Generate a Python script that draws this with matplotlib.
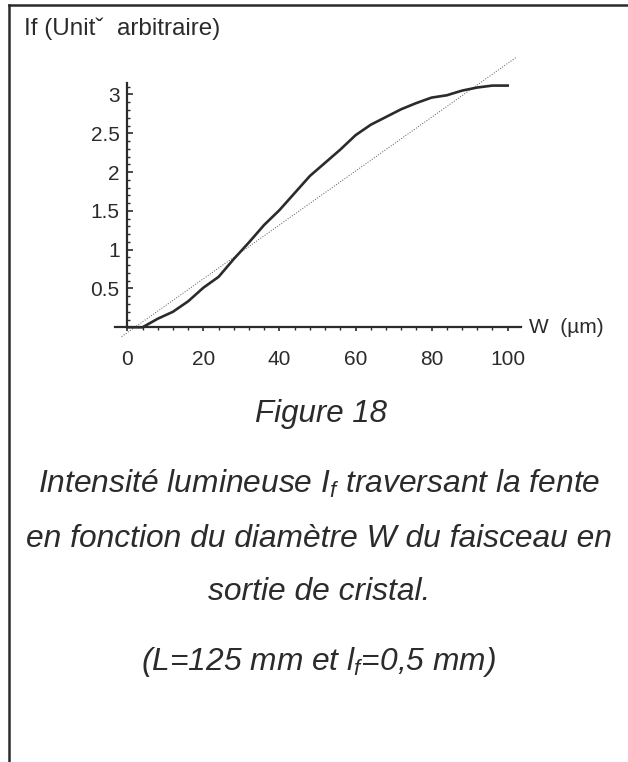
import numpy as np
import matplotlib
matplotlib.use("Agg")
import matplotlib.pyplot as plt
from matplotlib.lines import Line2D
from matplotlib.ticker import FixedLocator

# beam diameter W (um) and transmitted intensity If (arbitrary units)
W = [0, 4, 8, 12, 16, 20, 24, 28, 32, 36, 40, 44, 48, 52,
     56, 60, 64, 68, 72, 76, 80, 84, 88, 92, 96, 100]
If = [0.0, 0.0, 0.11, 0.20, 0.335, 0.51, 0.65, 0.88, 1.095, 1.32, 1.51, 1.73, 1.95, 2.12,
      2.29, 2.475, 2.61, 2.71, 2.81, 2.89, 2.96, 2.99, 3.05, 3.09, 3.115, 3.115]

# linear fit drawn as a dotted reference line
fit_slope = 0.0347
fit_intercept = -0.069
fit_range = [-1.5, 102.4]

x_ticks = [0, 20, 40, 60, 80, 100]
y_ticks = [0.5, 1, 1.5, 2, 2.5, 3]
y_tick_labels = ["0.5", "1", "1.5", "2", "2.5", "3"]

ink = "#2b2b2b"
plt.rcParams['font.family'] = ['Liberation Sans', 'DejaVu Sans']
plt.rcParams['mathtext.fontset'] = 'custom'
plt.rcParams['mathtext.it'] = 'Liberation Sans:italic'
plt.rcParams['mathtext.rm'] = 'Liberation Sans'

fig = plt.figure(figsize=(6.28, 7.62), dpi=100)
ax = fig.add_axes([0.17245, 0.55013, 0.6662, 0.37677])
ax.set_xlim(-5, 105)
ax.set_ylim(-0.2, 3.5)
ax.patch.set_visible(False)

for side in ['top', 'right']:
    ax.spines[side].set_visible(False)
ax.spines['left'].set_position(('data', 0))
ax.spines['bottom'].set_position(('data', 0))
ax.spines['left'].set_bounds(0, 3.15)
ax.spines['bottom'].set_bounds(-3.2, 103.4)
for side in ['left', 'bottom']:
    ax.spines[side].set_color(ink)
    ax.spines[side].set_linewidth(1.6)

ax.set_xticks(x_ticks)
ax.set_xticklabels([str(t) for t in x_ticks])
ax.xaxis.set_minor_locator(FixedLocator([v for v in range(4, 101, 4) if v % 20]))
ax.set_yticks(y_ticks)
ax.set_yticklabels(y_tick_labels)
y_minor = [round(v, 1) for v in np.arange(0.1, 3.15, 0.1)]
ax.yaxis.set_minor_locator(FixedLocator([v for v in y_minor if round(v * 10) % 5]))
ax.tick_params(axis='x', which='major', direction='out', length=3, width=1.2,
               color=ink, labelcolor=ink, labelsize=15, pad=13)
ax.tick_params(axis='x', which='minor', direction='out', length=2.5, width=1.0, color=ink)
ax.tick_params(axis='y', which='major', direction='in', length=4, width=1.2,
               color=ink, labelcolor=ink, labelsize=15, pad=5.5)
ax.tick_params(axis='y', which='minor', direction='in', length=2.5, width=1.0, color=ink)

xs = np.array(fit_range)
ax.plot(xs, fit_slope * xs + fit_intercept, ls=':', lw=0.7, color='#555555')
ax.plot(W, If, color=ink, lw=1.9, solid_joinstyle='round')

ax.annotate("W  (\u00b5m)", xy=(1.0, 0), xycoords=ax.get_yaxis_transform(),
            xytext=(2, 0), textcoords='offset pixels', fontsize=15,
            color=ink, ha='left', va='center')

# header and caption
fig.text(24 / 628, 1 - 35.3 / 762, "If (Unit\u02c7  arbitraire)", fontsize=17.5,
         color=ink, ha='left', va='baseline')
fig.text(321 / 628, 1 - 421.7 / 762, "Figure 18", fontsize=22.5, style='italic',
         color=ink, ha='center', va='baseline')
caption = [
    ("Intensit\u00e9 lumineuse I$_{f}$ traversant la fente", 493),
    ("en fonction du diam\u00e8tre W du faisceau en", 547),
    ("sortie de cristal.", 600),
    ("(L=125 mm et l$_{f}$=0,5 mm)", 670),
]
for line, base in caption:
    fig.text(319 / 628, 1 - base / 762, line, fontsize=22.9, style='italic',
             color=ink, ha='center', va='baseline')

# frame lines at the top and left edge
fig.add_artist(Line2D([8.5 / 628, 1.0], [1 - 5 / 762, 1 - 5 / 762],
                      transform=fig.transFigure, color=ink, lw=1.8))
fig.add_artist(Line2D([8.5 / 628, 8.5 / 628], [1 - 5 / 762, 0.0],
                      transform=fig.transFigure, color=ink, lw=1.8))

fig.savefig("out.png", dpi=100, facecolor='white')
